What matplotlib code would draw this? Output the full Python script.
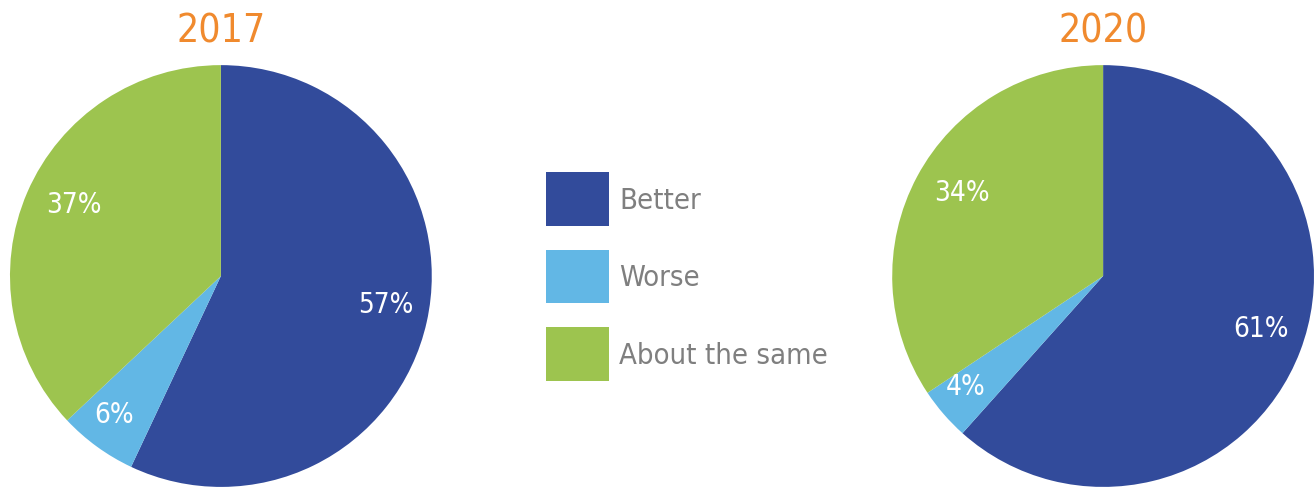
import matplotlib
matplotlib.use('Agg')
import numpy as np
import matplotlib.pyplot as plt

plt.rcParams['font.family'] = ['DejaVu Sans']
plt.rcParams['font.stretch'] = 'condensed'

years = ['2017', '2020']
categories = ['Better', 'Worse', 'About the same']
values_2017 = [57, 6, 37]
values_2020 = [61, 4, 34]

colors = ['#324B9B', '#62B7E5', '#9DC44F']
title_color = '#F08A2E'
legend_text_color = '#7F7F7F'

fig = plt.figure(figsize=(13.14, 4.89), dpi=100)

# pie axes, left and right
ax_left = fig.add_axes([0.0076, 0.002, 0.321, 0.863])
ax_right = fig.add_axes([0.679, 0.002, 0.321, 0.863])

# radial position of the percentage labels, per slice
label_dist = [0.8, 0.86, 0.76]

wedges = None
for ax, year, vals in [(ax_left, years[0], values_2017), (ax_right, years[1], values_2020)]:
    wedges, _ = ax.pie(vals, colors=colors, startangle=90, counterclock=False,
                       wedgeprops=dict(linewidth=0))
    for w, v, d in zip(wedges, vals, label_dist):
        ang = np.deg2rad((w.theta1 + w.theta2) / 2)
        ax.text(d * np.cos(ang), d * np.sin(ang) + 0.04, '%d%%' % v, color='white',
                fontsize=20, ha='center', va='center')
    ax.set_xlim(-1, 1)
    ax.set_ylim(-1, 1)
    ax.set_aspect('equal')
    ax.set_title(year, color=title_color, fontsize=28, pad=17)

leg = fig.legend(wedges, categories, loc='upper left',
                 bbox_to_anchor=(546 / 1314, 1 - 173 / 489),
                 frameon=False, fontsize=21, handlelength=2.16, handleheight=2.45,
                 labelspacing=0.82, handletextpad=0.35, borderpad=0, borderaxespad=0)
for t in leg.get_texts():
    t.set_color(legend_text_color)

fig.savefig('out.png', dpi=100)
